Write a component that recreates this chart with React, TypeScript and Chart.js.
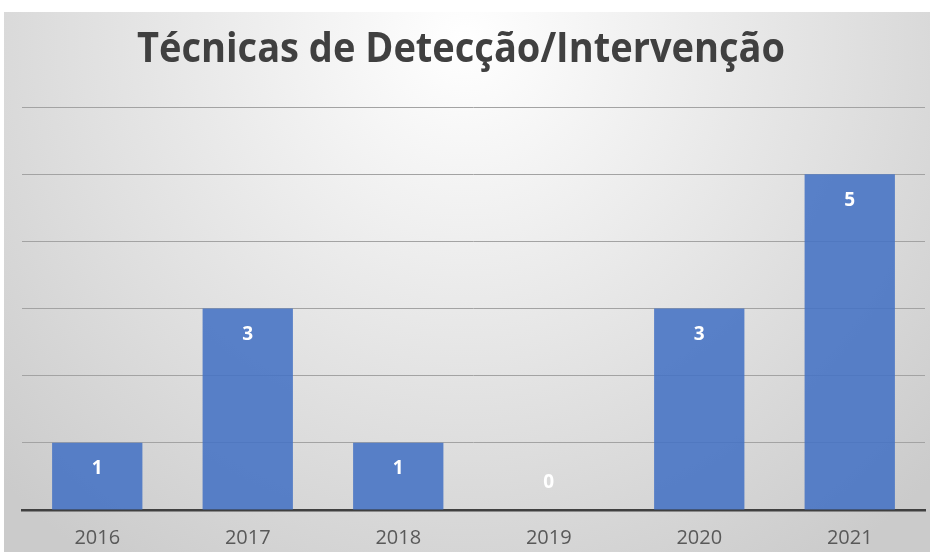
import React, { useEffect, useRef } from "react";
import { Chart, registerables } from "chart.js";

Chart.register(...registerables);

const title = "Técnicas de Detecção/Intervenção";
const categories = ["2016", "2017", "2018", "2019", "2020", "2021"];
const values = [1, 3, 1, 0, 3, 5];
const yMin = 0;
const yMax = 6;
const yStep = 1;

const backgroundPlugin = {
  id: "bgPlugin",
  beforeDraw(chart: any) {
    const { ctx, width, height } = chart;
    ctx.save();
    ctx.fillStyle = "#ffffff";
    ctx.fillRect(0, 0, width, height);
    const g = ctx.createRadialGradient(465, 40, 0, 465, 40, 640);
    g.addColorStop(0, "#ffffff");
    g.addColorStop(1, "#cbcbcb");
    ctx.fillStyle = g;
    ctx.fillRect(4, 12, width - 4, height - 12);
    ctx.restore();
  },
  afterDraw(chart: any) {
    const { ctx } = chart;
    ctx.save();
    ctx.fillStyle = "#404040";
    ctx.font = "bold 42px 'Open Sans'";
    ctx.textAlign = "left";
    ctx.textBaseline = "alphabetic";
    const w = ctx.measureText(title).width;
    const targetW = 648;
    const sx = targetW / w;
    ctx.save();
    ctx.translate(137, 62);
    ctx.scale(sx, 1);
    ctx.fillText(title, 0, 0);
    ctx.restore();
    // value labels
    const meta = chart.getDatasetMeta(0);
    const yScale = chart.scales.y;
    const base = yScale.getPixelForValue(0);
    ctx.fillStyle = "#ffffff";
    ctx.textAlign = "center";
    ctx.textBaseline = "middle";
    ctx.font = "bold 19px 'Open Sans'";
    meta.data.forEach((bar: any, i: number) => {
      const v = values[i];
      const y = v > 0 ? bar.y + 26 : base - 27;
      ctx.fillText(String(v), bar.x, y);
    });
    ctx.restore();
  },
};

export default function App() {
  const ref = useRef<HTMLCanvasElement>(null);
  useEffect(() => {
    document.body.style.margin = "0";
    const chart = new Chart(ref.current!, {
      type: "bar",
      data: {
        labels: categories,
        datasets: [
          {
            data: values,
            backgroundColor: "rgba(68,114,196,0.88)",
            barPercentage: 0.6,
            categoryPercentage: 1,
          },
        ],
      },
      options: {
        animation: false,
        responsive: false,
        layout: { padding: { left: 22, right: 5, top: 107, bottom: 0 } },
        plugins: { legend: { display: false }, tooltip: { enabled: false } },
        scales: {
          x: {
            grid: { display: false, drawTicks: false },
            border: { display: true, color: "#404040", width: 2.5 },
            ticks: {
              color: "#595959",
              font: { family: "'Open Sans'", size: 20 },
              padding: 16,
            },
            afterFit: (s: any) => {
              s.height = 42;
            },
          },
          y: {
            min: yMin,
            max: yMax,
            ticks: { display: false, stepSize: yStep },
            grid: { color: "#a3a3a3", lineWidth: 1, drawTicks: false },
            border: { display: false },
            afterFit: (s: any) => {
              s.width = 0;
            },
          },
        },
      },
      plugins: [backgroundPlugin],
    });
    return () => chart.destroy();
  }, []);
  return <canvas ref={ref} width={930} height={552} style={{ display: "block" }} />;
}
